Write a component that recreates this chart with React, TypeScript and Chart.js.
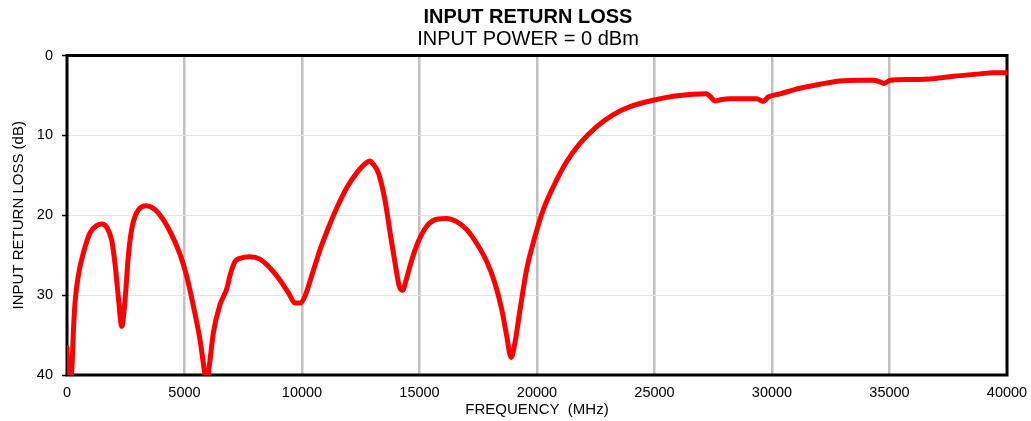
import React, { useEffect, useRef } from "react";
import { Chart, registerables } from "chart.js";

Chart.register(...registerables);

// ---- data ----
const frequencyMHz = [
  0, 60, 150, 220, 270, 340, 480, 700, 980, 1260, 1480, 1690, 1900, 2040, 2180, 2330, 2470, 2610, 2750, 2960,
  3360, 3820, 4380, 4810, 5090, 5380, 5660, 5850, 5950, 6030, 6230, 6510, 6800, 6950, 7150, 7360, 7790, 8210,
  8640, 9060, 9420, 9700, 9920, 10130, 10410, 10770, 11120, 11480, 11900, 12330, 12750, 12900, 13000, 13250,
  13530, 13750, 13960, 14140, 14280, 14450, 14670, 14950, 15300, 15730, 16160, 16580, 17010, 17430, 17860,
  18210, 18500, 18710, 18900, 19060, 19280, 19560, 19900, 20270, 20700, 21260, 21830, 22540, 23250, 23960,
  24950, 25800, 26650, 27200, 27360, 27580, 27860, 28210, 29350, 29630, 29840, 30340, 31190, 32040, 32890,
  33750, 34310, 34600, 34770, 35020, 35870, 36870, 37720, 38850, 39420, 40000,
];
const returnLossDb = [
  36.6, 40.5, 41, 38.5, 34.7, 31.0, 27.6, 24.7, 22.2, 21.3, 21.1, 21.5, 23.1, 26.0, 30.1, 33.9, 30.6, 25.1, 21.8, 19.7,
  18.8, 19.5, 22.0, 24.9, 27.6, 31.4, 35.6, 39.5, 41, 39.5, 34.7, 31.2, 29.2, 27.4, 25.8, 25.4, 25.2, 25.5,
  26.6, 28.1, 29.7, 31.0, 31.0, 30.1, 27.6, 24.3, 21.6, 19.1, 16.6, 14.7, 13.4, 13.2, 13.5, 14.7,
  18.1, 22.2, 26.0, 28.9, 29.4, 27.9, 25.6, 23.3, 21.4, 20.5, 20.4, 20.8, 21.8, 23.5, 25.8,
  28.5, 31.8, 35.1, 37.8, 36.0, 31.8, 26.8, 22.8, 19.3, 16.4, 13.3, 11.0, 8.9, 7.4, 6.4,
  5.6, 5.1, 4.85, 4.8, 5.1, 5.7, 5.5, 5.4, 5.4, 5.75, 5.2, 4.8, 4.1, 3.6, 3.2,
  3.1, 3.1, 3.3, 3.5, 3.1, 3.0, 2.9, 2.6, 2.3, 2.15, 2.15,
];
const xMin = 0;
const xMax = 40000;
const xStep = 5000;
const yMin = 0;
const yMax = 40;
const yStep = 10;
const chartTitle = "INPUT RETURN LOSS";
const chartSubtitle = "INPUT POWER = 0 dBm";
const xAxisTitle = "FREQUENCY  (MHz)";
const yAxisTitle = "INPUT RETURN LOSS (dB)";

const FONT = "'Liberation Sans', Arial, Helvetica, sans-serif";

const framePlugin = {
  id: "plotFrame",
  beforeDatasetsDraw(chart: any) {
    const { ctx, chartArea: a } = chart;
    ctx.save();
    ctx.strokeStyle = "#000";
    ctx.lineWidth = 3;
    ctx.strokeRect(a.left, a.top, a.right - a.left, a.bottom - a.top);
    ctx.restore();
  },
};

export default function App() {
  const canvasRef = useRef<HTMLCanvasElement | null>(null);

  useEffect(() => {
    const canvas = canvasRef.current;
    if (!canvas) return;
    const points = frequencyMHz.map((f, i) => ({ x: f, y: returnLossDb[i] }));
    const chart = new Chart(canvas, {
      type: "line",
      data: {
        datasets: [
          {
            data: points,
            borderColor: "#ff0000",
            borderWidth: 5,
            borderJoinStyle: "round",
            borderCapStyle: "round",
            pointRadius: 0,
            cubicInterpolationMode: "monotone",
            fill: false,
          },
        ],
      },
      options: {
        animation: false,
        responsive: false,
        devicePixelRatio: 1,
        layout: { padding: { left: 0, right: -25, top: 0, bottom: 0 } },
        plugins: {
          legend: { display: false },
          tooltip: { enabled: false },
          title: {
            display: true,
            text: chartTitle,
            color: "#000",
            font: { family: FONT, size: 20, weight: "bold", lineHeight: 1.2 },
            padding: { top: 5, bottom: 0 },
          },
          subtitle: {
            display: true,
            text: chartSubtitle,
            color: "#000",
            font: { family: FONT, size: 20, weight: "normal", lineHeight: 1.0 },
            padding: { top: 0, bottom: 6.5 },
          },
        },
        scales: {
          x: {
            type: "linear",
            min: xMin,
            max: xMax,
            border: { display: false },
            grid: {
              color: (c: any) =>
                c.tick && (c.tick.value === xMin || c.tick.value === xMax) ? "rgba(0,0,0,0)" : "#c0c0c0",
              lineWidth: 2.5,
              drawTicks: false,
            },
            ticks: {
              stepSize: xStep,
              padding: 9,
              color: "#000",
              font: { family: FONT, size: 14.5 },
              maxRotation: 0,
              callback: (v: any) => String(v),
            },
            title: {
              display: true,
              text: xAxisTitle,
              color: "#000",
              font: { family: FONT, size: 15 },
              padding: { top: 0, bottom: 2.5 },
            },
            afterFit: (s: any) => {
              s.height = 46;
              s.paddingRight = 24;
            },
          },
          y: {
            type: "linear",
            min: yMin,
            max: yMax,
            reverse: true,
            border: { display: false },
            grid: {
              color: "#e4e4e4",
              lineWidth: 1,
              drawTicks: true,
              tickLength: 5,
              tickColor: "#000",
              tickWidth: 1.5,
            },
            ticks: {
              stepSize: yStep,
              padding: 9,
              color: "#000",
              font: { family: FONT, size: 14.5 },
              callback: (v: any) => String(v),
            },
            title: {
              display: true,
              text: yAxisTitle,
              color: "#000",
              font: { family: FONT, size: 15 },
              padding: { top: 10, bottom: 0 },
            },
            afterFit: (s: any) => {
              s.width = 67;
            },
          },
        },
      },
      plugins: [framePlugin],
    } as any);
    return () => chart.destroy();
  }, []);

  return (
    <div style={{ position: "absolute", left: 0, top: 0, width: 1031, height: 421, background: "#fff" }}>
      <canvas ref={canvasRef} width={1031} height={421} style={{ display: "block" }} />
    </div>
  );
}
